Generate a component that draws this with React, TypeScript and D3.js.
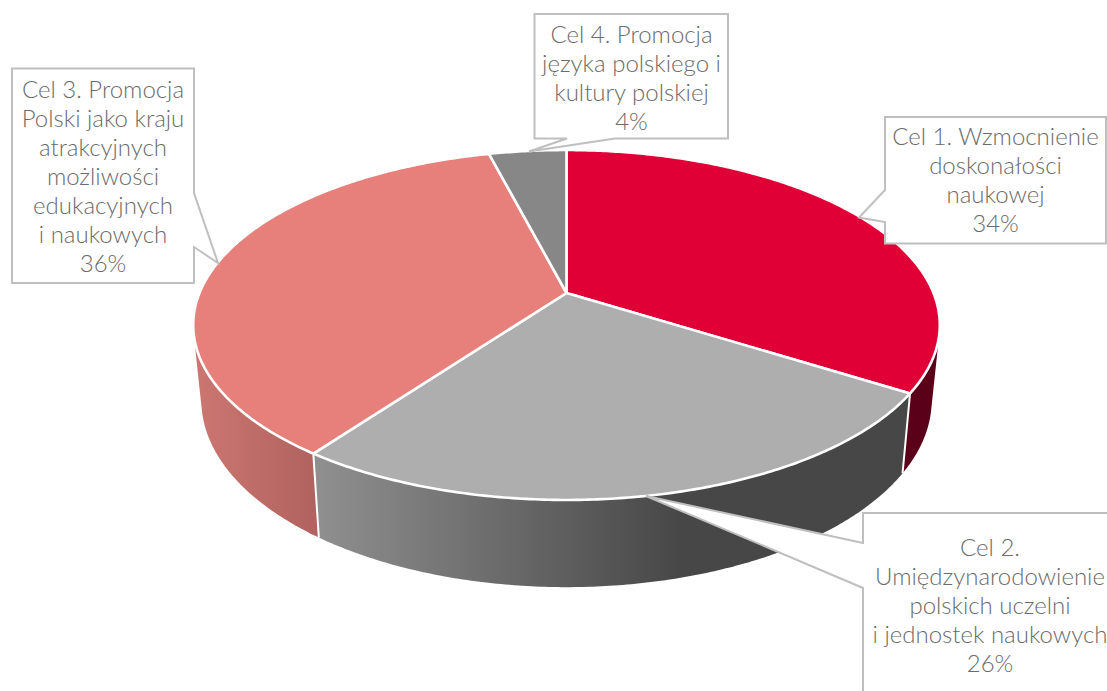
import React from "react";
import * as d3 from "d3";

const categories = ["Cel 1", "Cel 2", "Cel 3", "Cel 4"];
const values = [34, 26, 36, 4];
const topColors = ["#E10036", "#AEAEAE", "#E7807B", "#878787"];
const wallStops = [
  [["0", "#5A0019"], ["1", "#5A0019"]],
  [["0", "#8F8F8F"], ["0.62", "#474747"], ["1", "#474747"]],
  [["0", "#CB7570"], ["1", "#B0625E"]],
  [["0", "#5A5A5A"], ["1", "#5A5A5A"]],
];
const labelLines = [
  ["Cel 1. Wzmocnienie", "doskonałości", "naukowej", "34%"],
  ["Cel 2.", "Umiędzynarodowienie", "polskich uczelni", "i jednostek naukowych", "26%"],
  ["Cel 3. Promocja", "Polski jako kraju", "atrakcyjnych", "możliwości", "edukacyjnych", "i naukowych", "36%"],
  ["Cel 4. Promocja", "języka polskiego i", "kultury polskiej", "4%"],
];
const labelCenters: [number, number][] = [
  [995.5, 137],
  [990, 548],
  [103, 89.5],
  [631.5, 34.5],
];
const calloutPaths = [
  [[885, 117], [1106, 117], [1106, 243.5], [885, 243.5], [885, 222], [859, 217.5], [885, 190]],
  [[863, 513], [1120, 513], [1120, 700], [863, 700], [863, 588], [646, 496], [863, 543]],
  [[12, 68.5], [194, 68.5], [194, 193], [218, 263], [194, 247], [194, 283], [12, 283]],
  [[534.5, 14], [728, 14], [728, 138.5], [615, 138.5], [529, 151.5], [567, 138.5], [534.5, 138.5]],
];
const wallOrder = [3, 2, 0, 1];

const WIDTH = 1107;
const HEIGHT = 691;

// Perspective disc: angle on a true circle projected to the screen
const disc = (cx: number, cy: number, rx: number, ry: number, k: number) => (t: number): [number, number] => {
  const u = Math.sin(t);
  const v = -Math.cos(t);
  const d = 1 - k * v;
  return [cx + (rx * u) / d, cy + (ry * v) / d];
};
const topDisc = disc(566.5, 293, 367, 169.1, 0.1829);
const bottomDisc = disc(566.5, 366, 359, 180.7, 0.1829);
const APEX: [number, number] = [566.5, 293];

const pieLayout = d3.pie<number>().sort(null).value((d) => d);
const arcs = pieLayout(values);

const sample = (a: number, b: number) => {
  const n = Math.max(2, Math.ceil((b - a) / 0.01));
  return d3.range(n + 1).map((i) => a + ((b - a) * i) / n);
};
const line = d3.line<[number, number]>();
const frontMost = (t: number) => Math.cos(t) < 0.35;

export default function App() {
  return (
    <svg
      width={WIDTH}
      height={HEIGHT}
      viewBox={`0 0 ${WIDTH} ${HEIGHT}`}
      style={{ position: "absolute", left: 0, top: 0, background: "#fff" }}
      fontFamily="Lato"
      fontWeight={300}
    >
      <defs>
        {arcs.map((a, i) => {
          const xs = sample(a.startAngle, a.endAngle).filter(frontMost).map((t) => bottomDisc(t)[0]);
          const [x0, x1] = d3.extent(xs.length ? xs : [0, 1]) as [number, number];
          return (
            <linearGradient key={i} id={`wall${i}`} gradientUnits="userSpaceOnUse" x1={x0} x2={x1} y1={0} y2={0}>
              {wallStops[i].map(([o, c]) => (
                <stop key={o} offset={o} stopColor={c} />
              ))}
            </linearGradient>
          );
        })}
      </defs>
      {wallOrder.map((i) => {
        const a = arcs[i];
        const ts = sample(a.startAngle, a.endAngle);
        const hull = d3.polygonHull([...ts.map(topDisc), ...ts.map(bottomDisc)]) as [number, number][];
        return <path key={categories[i]} d={line(hull) + "Z"} fill={`url(#wall${i})`} />;
      })}
      {arcs.map((a, i) =>
        [a.startAngle].filter(frontMost).map((t) => (
          <path key={i} d={line([topDisc(t), bottomDisc(t)]) ?? ""} stroke="#fff" strokeWidth={2} fill="none" />
        ))
      )}
      {arcs.map((a, i) => {
        const pts = [APEX, ...sample(a.startAngle, a.endAngle).map(topDisc)];
        return (
          <path
            key={categories[i]}
            d={line(pts) + "Z"}
            fill={topColors[i]}
            stroke="#fff"
            strokeWidth={2.6}
            strokeLinejoin="round"
          />
        );
      })}
      {calloutPaths.map((p, i) => (
        <path key={i} d={line(p as [number, number][]) + "Z"} fill="#fff" stroke="#BFBFBF" strokeWidth={2} />
      ))}
      {labelLines.map((lines, i) => (
        <text
          key={i}
          textAnchor="middle"
          fontSize={24}
          fill="#6B6B6B"
          x={labelCenters[i][0]}
          y={labelCenters[i][1] + 8}
        >
          {lines.map((l, j) => (
            <tspan key={j} x={labelCenters[i][0]} dy={j === 0 ? 0 : 29}>
              {l}
            </tspan>
          ))}
        </text>
      ))}
    </svg>
  );
}
